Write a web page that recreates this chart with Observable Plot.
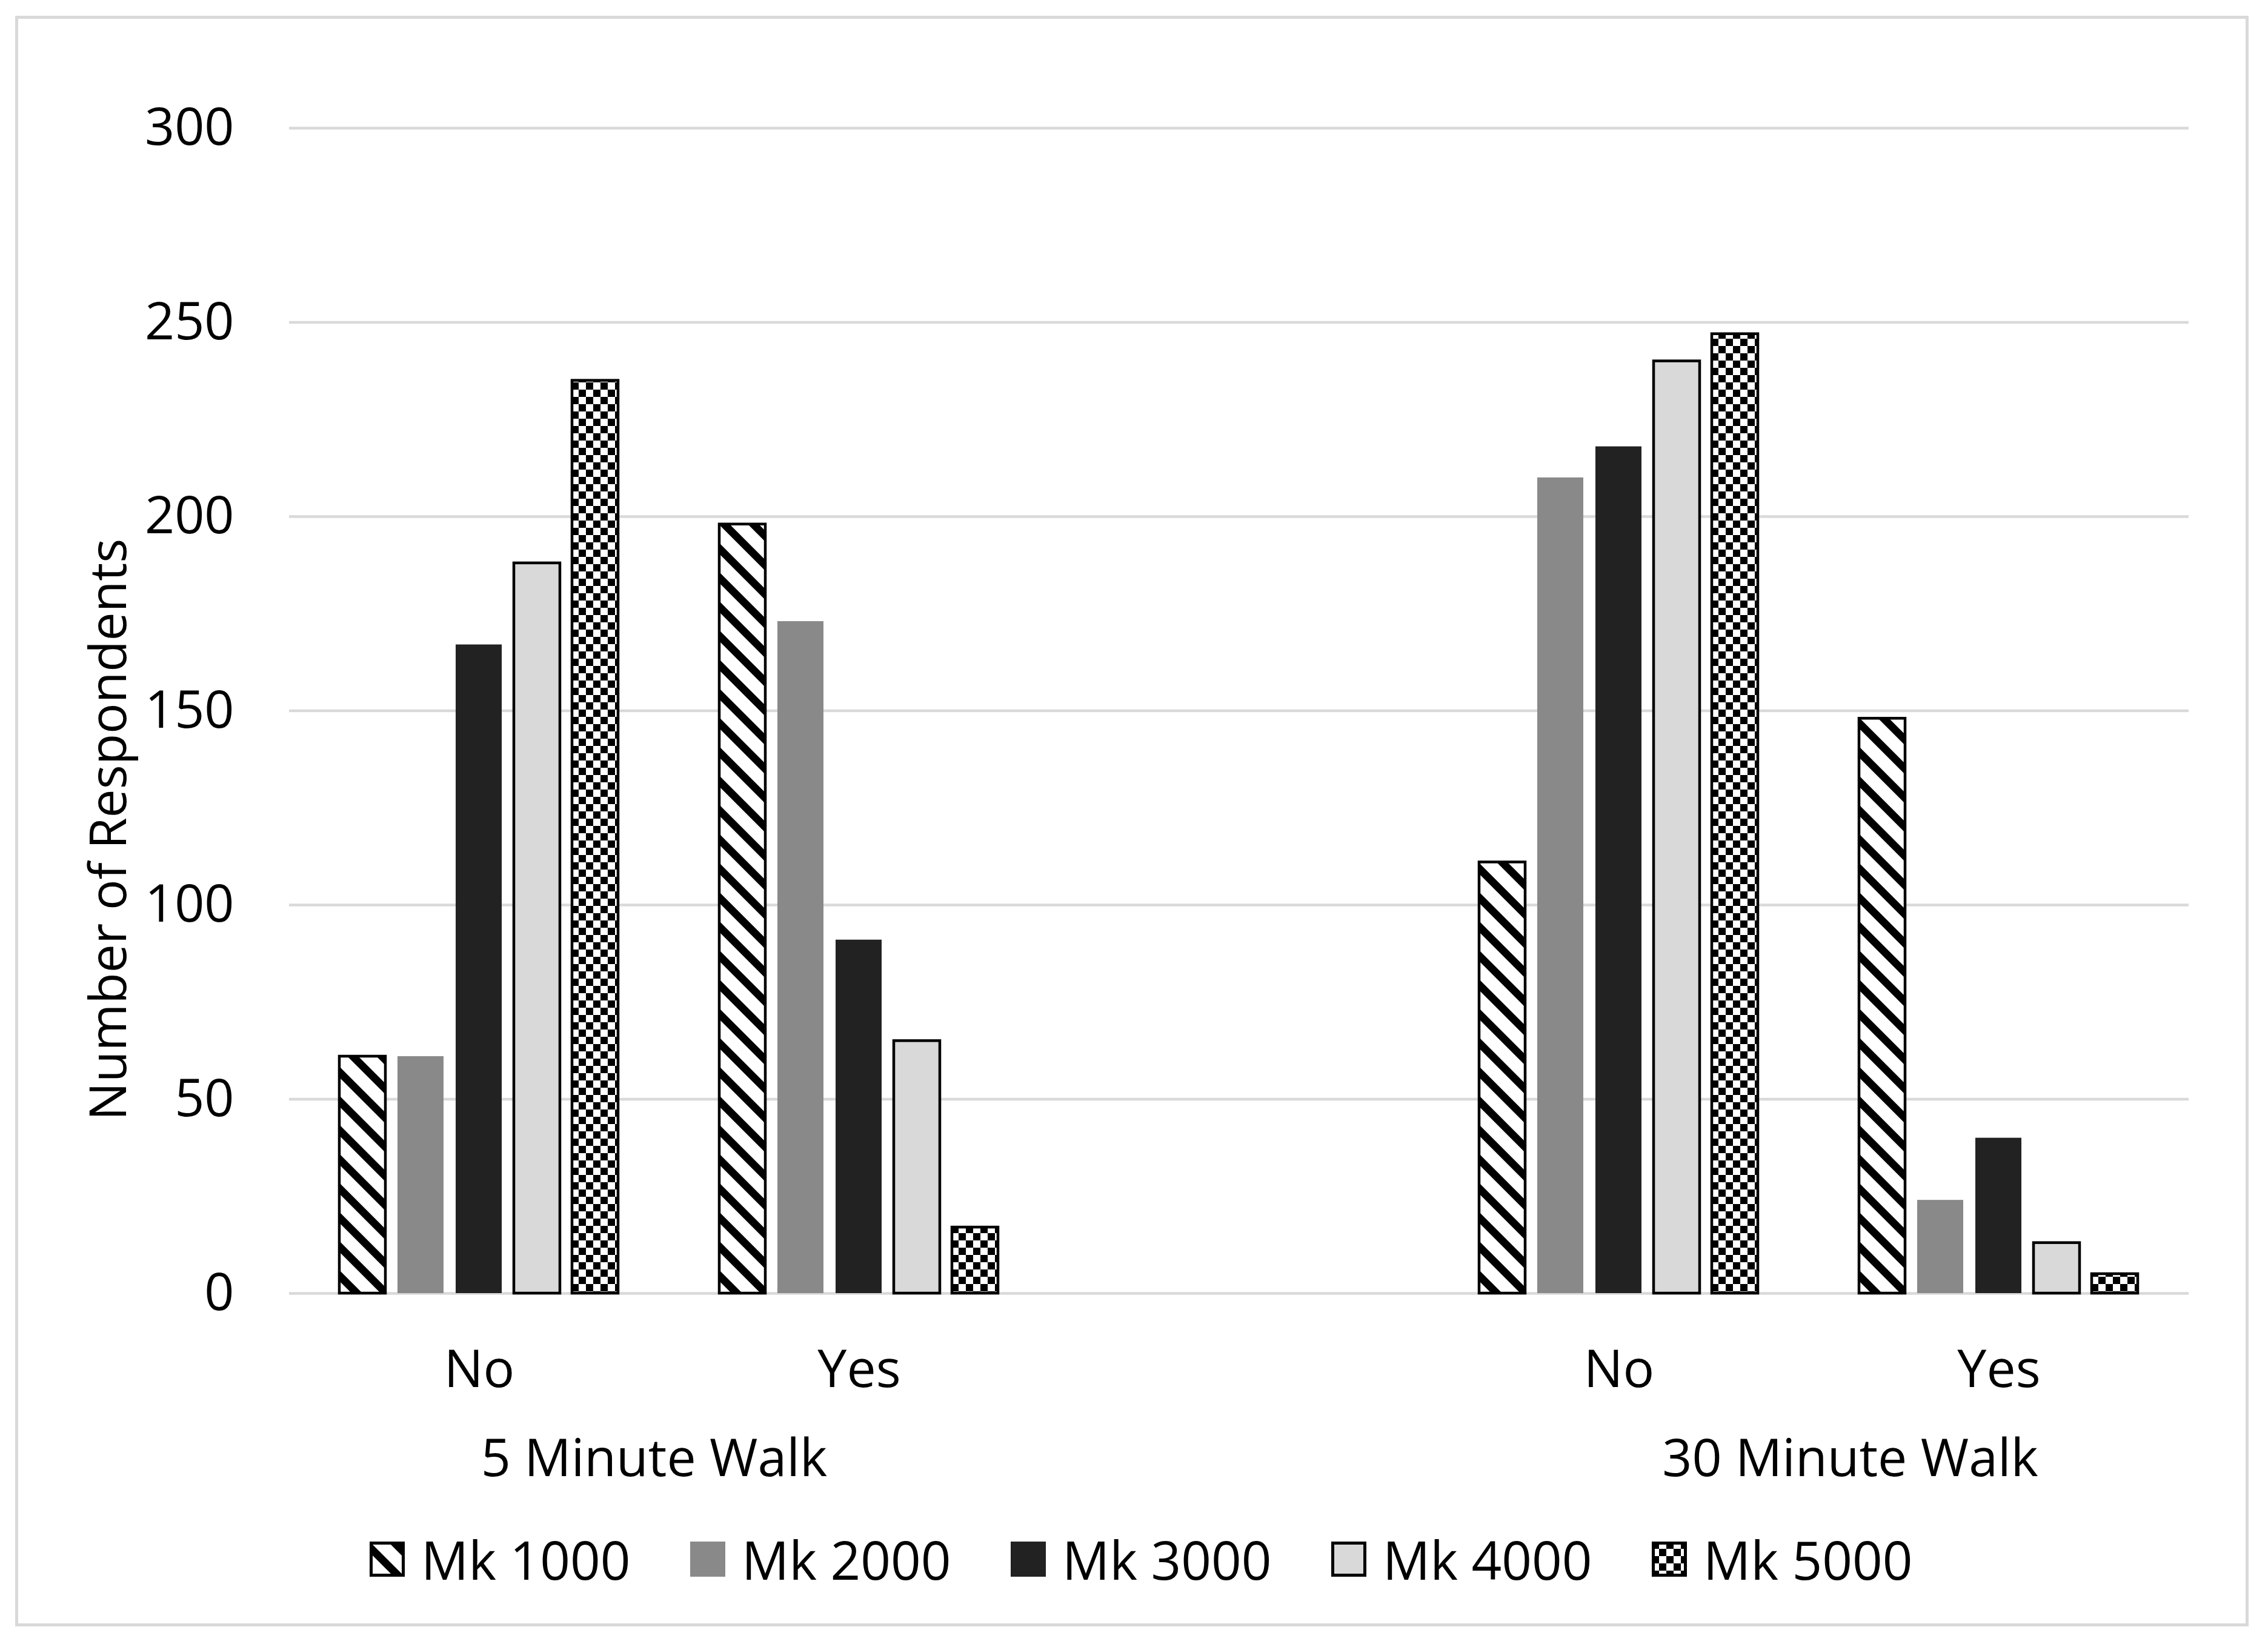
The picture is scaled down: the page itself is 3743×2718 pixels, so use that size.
<!DOCTYPE html>
<html>
<head>
<meta charset="utf-8">
<script src="https://cdn.jsdelivr.net/npm/d3@7"></script>
<script src="https://cdn.jsdelivr.net/npm/@observablehq/plot@0.6"></script>
<style>
  html, body { margin: 0; padding: 0; background: #ffffff; }
  body { width: 3743px; height: 2718px; position: relative; font-family: "Open Sans", sans-serif; }
  #frame { position: absolute; left: 25px; top: 26px; width: 3686px; height: 2658px; box-sizing: border-box; border: 5px solid #d9d9d9; background: #ffffff; }
  #chart { position: absolute; left: 0; top: 0; }
  #legend { position: absolute; left: 580px; top: 2513px; display: flex; flex-direction: row; }
  .item { width: 529px; height: 58px; display: flex; flex-direction: row; align-items: center; }
  .item svg { flex: none; }
  .item span { margin-left: 27px; font-size: 87px; line-height: 58px; color: #000; white-space: nowrap; }
</style>
</head>
<body>
<svg width="0" height="0" style="position:absolute">
  <defs>
    <pattern id="pat-stripes" patternUnits="userSpaceOnUse" width="48" height="48">
      <rect width="48" height="48" fill="#ffffff"/>
      <polygon points="0,0 48,48 30,48 0,18" fill="#000000"/>
      <polygon points="30,0 48,0 48,18" fill="#000000"/>
    </pattern>
    <pattern id="pat-checker" patternUnits="userSpaceOnUse" width="24" height="24">
      <rect width="24" height="24" fill="#ffffff"/>
      <rect x="0" y="0" width="12" height="12" fill="#000000"/>
      <rect x="12" y="12" width="12" height="12" fill="#000000"/>
    </pattern>
  </defs>
</svg>
<div id="frame">
  <div id="chart"></div>
  <div id="legend"></div>
</div>
<script>
// ---- data ----
const series = ["Mk 1000", "Mk 2000", "Mk 3000", "Mk 4000", "Mk 5000"];
const walks = ["5 Minute Walk", "30 Minute Walk"];
const answers = ["No", "Yes"];
const fiveMinNo = [61, 61, 167, 188, 235];
const fiveMinYes = [198, 173, 91, 65, 17];
const thirtyMinNo = [111, 210, 218, 240, 247];
const thirtyMinYes = [148, 24, 40, 13, 5];
const yTicks = [0, 50, 100, 150, 200, 250, 300];
const yLabel = "Number of Respondents";

// ---- styles ----
const seriesFill = ["url(#pat-stripes)", "#898989", "#222222", "#d9d9d9", "url(#pat-checker)"];
const outlined = new Set(["Mk 1000", "Mk 4000", "Mk 5000"]);

// slots along x: two walk groups separated by an empty slot
const key = (w, a) => w + "|" + a;
const slots = [key(walks[0], answers[0]), key(walks[0], answers[1]), "gap", key(walks[1], answers[0]), key(walks[1], answers[1])];

const valueLists = [[walks[0], answers[0], fiveMinNo], [walks[0], answers[1], fiveMinYes], [walks[1], answers[0], thirtyMinNo], [walks[1], answers[1], thirtyMinYes]];
const rows = [];
for (const [w, a, vals] of valueLists) {
  series.forEach((s, i) => rows.push({slot: key(w, a), series: s, value: vals[i]}));
}
// gridlines in every slot (so they run continuously across the frame)
const gridRows = [];
for (const sl of slots) for (const t of yTicks) gridRows.push({slot: sl, tick: t});

const chart = Plot.plot({
  width: 3676,
  height: 2480,
  marginLeft: 446,
  marginRight: 94,
  marginTop: 180,
  marginBottom: 377,
  style: {fontFamily: "Open Sans", fontSize: "86px", color: "#000000", background: "transparent", overflow: "visible"},
  fx: {domain: slots, padding: 0, label: null},
  x: {domain: series, paddingInner: 0.205, paddingOuter: 0.866, axis: null},
  y: {domain: [0, 300], label: null},
  color: {domain: series, range: seriesFill},
  marks: [
    Plot.ruleY(gridRows, {fx: "slot", y: "tick", stroke: "#d9d9d9", strokeWidth: 4.5}),
    Plot.axisY(yTicks, {anchor: "left", tickSize: 0, tickPadding: 91, label: null, fontSize: 86}),
    Plot.axisFx({anchor: "bottom", tickSize: 0, tickPadding: 93, label: null, fontSize: 86,
      tickFormat: d => d === "gap" ? "" : d.split("|")[1]}),
    Plot.barY(rows.filter(d => !outlined.has(d.series)), {fx: "slot", x: "series", y: "value", fill: "series"}),
    Plot.barY(rows.filter(d => outlined.has(d.series)), {fx: "slot", x: "series", y: "value", fill: "series", stroke: "#000000", strokeWidth: 4.5}),
    Plot.text([{slot: key(walks[0], answers[0]), label: walks[0]}], {fx: "slot", text: "label", frameAnchor: "bottom-right", textAnchor: "middle", lineAnchor: "middle", dy: 274, dx: -25, fontSize: 86, fill: "#000000"}),
    Plot.text([{slot: key(walks[1], answers[0]), label: walks[1]}], {fx: "slot", text: "label", frameAnchor: "bottom-right", textAnchor: "middle", lineAnchor: "middle", dy: 274, dx: 68, fontSize: 86, fill: "#000000"}),
    Plot.text([{slot: slots[0], label: yLabel}], {fx: "slot", text: "label", frameAnchor: "left", rotate: -90, textAnchor: "middle", lineAnchor: "middle", dx: -296, dy: 196, fontSize: 84, fill: "#000000"})
  ]
});
document.getElementById("chart").appendChild(chart);

// ---- legend ----
const legend = document.getElementById("legend");
series.forEach((s, i) => {
  const item = document.createElement("div");
  item.className = "item";
  const ns = "http://www.w3.org/2000/svg";
  const sw = document.createElementNS(ns, "svg");
  sw.setAttribute("width", "58");
  sw.setAttribute("height", "58");
  const r = document.createElementNS(ns, "rect");
  if (outlined.has(s)) {
    r.setAttribute("x", "2.5"); r.setAttribute("y", "2.5");
    r.setAttribute("width", "53"); r.setAttribute("height", "53");
    r.setAttribute("stroke", "#000000"); r.setAttribute("stroke-width", "5");
  } else {
    r.setAttribute("x", "0"); r.setAttribute("y", "0");
    r.setAttribute("width", "58"); r.setAttribute("height", "58");
  }
  r.setAttribute("fill", seriesFill[i]);
  sw.appendChild(r);
  const t = document.createElement("span");
  t.textContent = s;
  item.appendChild(sw);
  item.appendChild(t);
  legend.appendChild(item);
});
</script>
</body>
</html>
